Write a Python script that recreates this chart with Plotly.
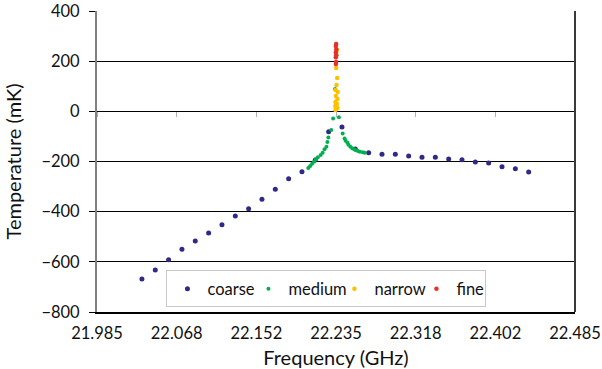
import plotly.graph_objects as go

# ---- data ----
coarse_f = [22.032 + 0.01395 * k for k in range(30)]
coarse_t = [-668, -633, -592, -550, -517, -485, -452, -417, -388, -350,
            -311, -269, -241, -194, -81, -62, -150, -165, -171, -171,
            -178, -183, -183, -190, -193, -202, -206, -221, -229, -242]

medium_f = [22.206, 22.208, 22.210, 22.212, 22.214, 22.216, 22.219, 22.221,
            22.223, 22.225, 22.226, 22.227, 22.230, 22.232, 22.234, 22.238,
            22.242, 22.244, 22.245, 22.247, 22.248, 22.250, 22.252, 22.254,
            22.256, 22.258, 22.260, 22.263, 22.265]
medium_t = [-226, -218, -209, -201, -191, -183, -174, -165,
            -151, -141, -122, -104, -74, -29, 89, -24,
            -88, -108, -117, -125, -133, -141, -147, -151,
            -155, -158, -161, -163, -165]

narrow_f = [22.2360, 22.2352, 22.2362, 22.2355, 22.2346, 22.2368, 22.2349,
            22.2365, 22.2344, 22.2360, 22.2342, 22.2366, 22.2344, 22.2355]
narrow_t = [245, 173, 133, 105, 85, 77, 61, 49, 37, 29, 21, 13, 5, 225]

fine_f = [22.2352, 22.2348, 22.2353, 22.2349, 22.2352, 22.2348, 22.2351, 22.2349]
fine_t = [268, 260, 248, 236, 224, 216, 197, 189]

x_ticks = [21.985, 22.068333, 22.151667, 22.235, 22.318333, 22.401667, 22.485]
x_labels = ["21.985", "22.068", "22.152", "22.235", "22.318", "22.402", "22.485"]
y_ticks = [400, 200, 0, -200, -400, -600, -800]

FONT = "Lato"

fig = go.Figure()
fig.add_trace(go.Scatter(x=coarse_f, y=coarse_t, mode="markers", name="coarse",
                         marker=dict(color="#2E2A86", size=5), legendwidth=36))
fig.add_trace(go.Scatter(x=medium_f, y=medium_t, mode="markers", name="medium",
                         marker=dict(color="#00B050", size=4), legendwidth=41))
fig.add_trace(go.Scatter(x=narrow_f, y=narrow_t, mode="markers", name="narrow",
                         marker=dict(color="#FFC000", size=4.5), legendwidth=37))
fig.add_trace(go.Scatter(x=fine_f, y=fine_t, mode="markers", name="fine",
                         marker=dict(color="#E8302A", size=4.5), legendwidth=24))

fig.update_layout(
    width=602, height=369,
    margin=dict(l=97, r=27, t=11, b=57),
    paper_bgcolor="white", plot_bgcolor="white",
    font=dict(family=FONT, size=16.5, color="#111111"),
    showlegend=True,
    legend=dict(orientation="h", x=0.48, xanchor="center", y=0.015, yanchor="bottom",
                bordercolor="#C8C8C8", borderwidth=1, bgcolor="white",
                font=dict(family=FONT, size=16.5), itemwidth=30,
                entrywidthmode="pixels", tracegroupgap=0),
    xaxis=dict(range=[21.985, 22.485], tickvals=x_ticks, ticktext=x_labels,
               showgrid=False, zeroline=False, showline=True, linecolor="black",
               linewidth=2, ticks="", ticklabelstandoff=5, automargin=False,
               title=dict(text="Frequency (GHz)", standoff=10)),
    xaxis2=dict(range=[21.985, 22.485], tickvals=x_ticks, overlaying="x",
                anchor="free", position=800 / 1200, side="bottom",
                showticklabels=False, ticks="outside", ticklen=5, tickwidth=1,
                tickcolor="#B0B0B0", showgrid=False, zeroline=False, showline=False,
                automargin=False),
    yaxis=dict(range=[-800, 400], tickvals=y_ticks, showgrid=True, gridcolor="black",
               gridwidth=1, zeroline=False, showline=True, linecolor="#808080",
               linewidth=2, ticks="outside", ticklen=6, tickcolor="black",
               ticklabelstandoff=6, automargin=False,
               title=dict(text="Temperature (mK)", standoff=14)),
)
# right border of plot area
fig.add_shape(type="line", xref="paper", yref="paper", x0=1, x1=1, y0=0, y1=1,
              line=dict(color="#3A3A3A", width=2))
# dummy trace so xaxis2 is drawn
fig.add_trace(go.Scatter(x=[None], y=[None], xaxis="x2", showlegend=False, hoverinfo="skip"))

fig.write_html("out.html")
